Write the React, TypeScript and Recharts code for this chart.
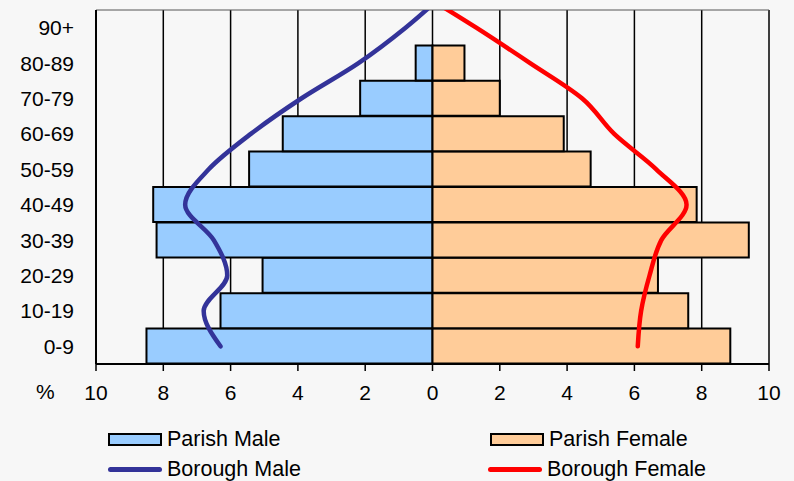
import {
  Bar,
  CartesianGrid,
  ComposedChart,
  Line,
  ReferenceLine,
  XAxis,
  YAxis,
} from "recharts";

const ageGroups = ["0-9", "10-19", "20-29", "30-39", "40-49", "50-59", "60-69", "70-79", "80-89", "90+"];

// parish, % of population
const parishMale = [8.5, 6.3, 5.05, 8.2, 8.3, 5.45, 4.45, 2.15, 0.5, 0];
const parishFemale = [8.85, 7.6, 6.7, 9.4, 7.85, 4.7, 3.9, 2.0, 0.95, 0];

// borough curves, last value sits just above the top band and gets clipped
const boroughMale = [6.3, 6.8, 6.1, 6.5, 7.35, 6.65, 5.4, 3.9, 2.2, 0.8, -0.4];
const boroughFemale = [6.1, 6.2, 6.45, 6.8, 7.55, 6.65, 5.4, 4.45, 2.9, 1.3, -0.4];

const xTicks = [-10, -8, -6, -4, -2, 0, 2, 4, 6, 8, 10];

const FONT = "'Liberation Sans', Arial, Helvetica, sans-serif";

const barData = ageGroups.map((g, i) => ({
  group: g,
  male: -parishMale[i],
  female: parishFemale[i],
}));

const maleLine = boroughMale.map((v, i) => ({ pos: i + 0.5, value: -v }));
const femaleLine = boroughFemale.map((v, i) => ({ pos: i + 0.5, value: v }));

const tick = { fill: "#000", fontSize: 21, fontFamily: FONT };

function LegendItem({ x, y, label, kind, color }: { x: number; y: number; label: string; kind: "bar" | "line"; color: string }) {
  return (
    <div style={{ position: "absolute", left: x, top: y, display: "flex", alignItems: "center", height: 20 }}>
      {kind === "bar" ? (
        <div style={{ width: 50, height: 9, border: "2px solid #000", background: color }} />
      ) : (
        <div style={{ width: 54, height: 5, borderRadius: 3, background: color }} />
      )}
      <span style={{ marginLeft: 5, fontSize: 21.5, fontFamily: FONT, color: "#000", lineHeight: "20px" }}>{label}</span>
    </div>
  );
}

export default function App() {
  return (
    <div style={{ position: "relative", width: 794, height: 481, background: "#f7f7f7", overflow: "hidden" }}>
      <style>{"body{margin:0}"}</style>
      <ComposedChart
        width={794}
        height={481}
        data={barData}
        layout="vertical"
        stackOffset="sign"
        barCategoryGap={0}
        barGap={0}
        margin={{ top: 10, right: 25, bottom: 87, left: 0 }}
      >
        <CartesianGrid yAxisId="cat" horizontal={false} stroke="#000" strokeWidth={1.5} />
        <XAxis
          type="number"
          domain={[-10, 10]}
          ticks={xTicks}
          tickFormatter={(v: number) => String(Math.abs(v))}
          height={30}
          tick={tick}
          tickSize={7}
          tickMargin={14}
          axisLine={{ stroke: "#000", strokeWidth: 2 }}
          tickLine={{ stroke: "#000", strokeWidth: 1.5 }}
          allowDataOverflow
        />
        <YAxis
          yAxisId="cat"
          type="category"
          dataKey="group"
          reversed
          width={96}
          tick={tick}
          tickSize={0}
          tickMargin={22}
          tickLine={false}
          axisLine={{ stroke: "#000", strokeWidth: 2 }}
          interval={0}
        />
        <YAxis yAxisId="num" type="number" dataKey="pos" domain={[0, 10]} reversed hide allowDataOverflow />
        <ReferenceLine yAxisId="num" y={10} stroke="#555" strokeWidth={1} />
        <Bar yAxisId="cat" dataKey="male" stackId="p" fill="#99ccff" stroke="#000" strokeWidth={2} isAnimationActive={false} />
        <Bar yAxisId="cat" dataKey="female" stackId="p" fill="#ffcc99" stroke="#000" strokeWidth={2} isAnimationActive={false} />
        <Line
          yAxisId="num"
          data={maleLine}
          dataKey="value"
          type="monotone"
          stroke="#333399"
          strokeWidth={4.5}
          strokeLinecap="round"
          dot={false}
          isAnimationActive={false}
        />
        <Line
          yAxisId="num"
          data={femaleLine}
          dataKey="value"
          type="monotone"
          stroke="#ff0000"
          strokeWidth={4.5}
          strokeLinecap="round"
          dot={false}
          isAnimationActive={false}
        />
      </ComposedChart>
      <div style={{ position: "absolute", left: 36, top: 380, fontSize: 21, fontFamily: FONT, color: "#000" }}>%</div>
      <LegendItem x={108} y={429} label="Parish Male" kind="bar" color="#99ccff" />
      <LegendItem x={490} y={429} label="Parish Female" kind="bar" color="#ffcc99" />
      <LegendItem x={108} y={459} label="Borough Male" kind="line" color="#333399" />
      <LegendItem x={488} y={459} label="Borough Female" kind="line" color="#ff0000" />
    </div>
  );
}
